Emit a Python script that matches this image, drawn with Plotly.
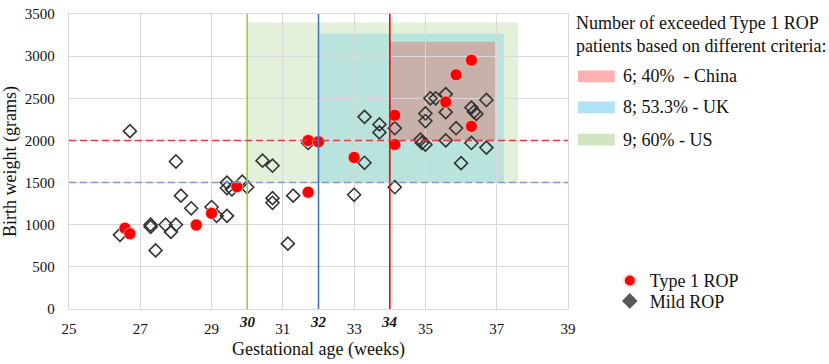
import plotly.graph_objects as go

# ---------------- data ----------------
type1_ga = [26.57, 26.71, 28.57, 29.0, 29.71, 31.71, 31.71, 32.0, 33.0, 34.14, 34.14, 35.57, 35.86, 36.29, 36.29]
type1_bw = [958, 893, 997, 1135, 1451, 1386, 1998, 1983, 1798, 1952, 2298, 2456, 2779, 2952, 2167]

mild_ga = [26.71, 28.0, 30.43, 30.71, 31.71, 33.29, 33.71, 33.71, 34.14, 35.14,
           35.29, 35.57, 35.0, 35.0, 35.57, 36.29, 36.36, 36.43, 36.71, 35.86,
           34.86, 34.9, 35.0, 35.57, 36.29, 36.71, 36.0, 33.29, 33.0, 34.14,
           29.43, 29.43, 29.57, 29.86, 30.0, 28.14, 28.43, 29.0, 29.14, 29.43,
           27.71, 28.0, 27.86, 27.29, 27.29, 27.43, 26.43, 30.71, 30.71, 31.29, 31.14]
mild_bw = [2110, 1750, 1760, 1700, 1970, 2280, 2190, 2095, 2145, 2500,
           2500, 2550, 2320, 2230, 2335, 2390, 2340, 2315, 2480, 2145,
           2010, 1970, 1950, 2000, 1970, 1915, 1730, 1735, 1355, 1445,
           1500, 1435, 1420, 1510, 1445, 1345, 1195, 1210, 1105, 1105,
           1000, 1000, 915, 1000, 975, 695, 880, 1315, 1260, 1345, 775]

# screening criteria (China, UK, US)
crit_names = ["6; 40%  - China", "8; 53.3% - UK", "9; 60% - US"]
crit_ga = [34, 32, 30]
crit_bw = [2000, 1500, 1500]
region_right = [36.95, 37.2, 37.6]
region_top = [3170, 3270, 3400]

x_tickvals = [25, 27, 29, 31, 33, 35, 37, 39]
y_tickvals = [0, 500, 1000, 1500, 2000, 2500, 3000, 3500]

# ---------------- styles ----------------
FONT = "Liberation Serif, Times New Roman, DejaVu Serif, serif"
TXT = "#111111"
line_cols = ["#ff0000", "#4472c4", "#92d050"]
fill_cols = ["rgba(225,95,90,0.38)", "rgba(70,195,230,0.27)", "rgba(169,208,142,0.33)"]
swatch_cols = ["#ffb0b0", "#b0e2f5", "#cfe4c0"]
hdash_cols = ["#e03c3c", "#7b9bd6"]

fig = go.Figure()

fig.add_trace(go.Scatter(x=mild_ga, y=mild_bw, mode="markers", showlegend=False,
                         marker=dict(symbol="diamond-open", size=10, color="#333333",
                                     line=dict(width=1.6, color="#333333"))))
fig.add_trace(go.Scatter(x=type1_ga, y=type1_bw, mode="markers", name="Type 1 ROP",
                         legend="legend",
                         marker=dict(symbol="circle", size=12, color="#ff0000",
                                     line=dict(width=0.6, color="#ffdede"))))
fig.add_trace(go.Scatter(x=[None], y=[None], mode="markers", name="Mild ROP",
                         legend="legend2",
                         marker=dict(symbol="diamond", size=11, color="#595959")))

shapes = []
for i in [2, 1, 0]:
    shapes.append(dict(type="rect", xref="x", yref="y", x0=crit_ga[i], x1=region_right[i],
                       y0=crit_bw[i], y1=region_top[i], fillcolor=fill_cols[i],
                       line=dict(width=0), layer="below"))
for i in range(3):
    shapes.append(dict(type="line", xref="x", yref="y", x0=crit_ga[i], x1=crit_ga[i],
                       y0=0, y1=3500, line=dict(color=line_cols[i], width=1.6)))
for bw, c in zip([2000, 1500], hdash_cols):
    shapes.append(dict(type="line", xref="x", yref="y", x0=25, x1=39, y0=bw, y1=bw,
                       line=dict(color=c, width=1.6, dash="7px,4px")))

L = 67.5
W = 501.5
T = 6
H = 303.0
def px2paper_x(px):
    return (px - L) / W
def px2paper_y(py):
    return 1 - (py - T) / H

annotations = []
for g in crit_ga:
    annotations.append(dict(xref="x", yref="paper", x=g, y=0, yanchor="top", yshift=-3,
                            showarrow=False, text="<b><i>%d</i></b>" % g,
                            font=dict(family=FONT, size=15, color=TXT)))
sw_y = [70, 102, 135]
for i in range(3):
    shapes.append(dict(type="rect", xref="paper", yref="paper",
                       x0=px2paper_x(579), x1=px2paper_x(616),
                       y0=px2paper_y(sw_y[i] + 6), y1=px2paper_y(sw_y[i] - 6),
                       fillcolor=swatch_cols[i], line=dict(width=0)))
    annotations.append(dict(xref="paper", yref="paper", x=px2paper_x(622), y=px2paper_y(sw_y[i]),
                            xanchor="left", yanchor="middle", showarrow=False,
                            text=crit_names[i], font=dict(family=FONT, size=18, color=TXT)))
annotations.append(dict(xref="paper", yref="paper", x=px2paper_x(575), y=px2paper_y(3),
                        xanchor="left", yanchor="top", showarrow=False, align="left",
                        text="Number of exceeded Type 1 ROP<br>patients based on different criteria:",
                        font=dict(family=FONT, size=18, color=TXT)))

leg_common = dict(xanchor="left", yanchor="middle", bgcolor="rgba(0,0,0,0)",
                  font=dict(family=FONT, size=18, color=TXT), itemsizing="constant")

fig.update_layout(
    width=829, height=364,
    margin=dict(l=67.5, r=260.5, t=6, b=55),
    paper_bgcolor="white", plot_bgcolor="white",
    font=dict(family=FONT, size=15, color=TXT),
    shapes=shapes, annotations=annotations,
    legend=dict(x=px2paper_x(611), y=px2paper_y(280), **leg_common),
    legend2=dict(x=px2paper_x(611), y=px2paper_y(301), **leg_common),
    xaxis=dict(range=[25, 39], tickvals=x_tickvals,
               showgrid=True, gridcolor="#d9d9d9", gridwidth=1.3,
               showline=True, mirror=True, linecolor="#d9d9d9", linewidth=1.3, zeroline=False,
               ticks="", ticklabelstandoff=6,
               tickfont=dict(family=FONT, size=15, color=TXT),
               title=dict(text="Gestational age (weeks)", standoff=6,
                          font=dict(family=FONT, size=18, color=TXT))),
    yaxis=dict(range=[0, 3500], tickvals=y_tickvals, ticklabeloverflow="allow",
               showgrid=True, gridcolor="#d9d9d9", gridwidth=1.3,
               showline=True, mirror=True, linecolor="#d9d9d9", linewidth=1.3, zeroline=False,
               ticks="", ticklabelstandoff=10,
               tickfont=dict(family=FONT, size=15, color=TXT),
               title=dict(text="Birth weight (grams)", standoff=6,
                          font=dict(family=FONT, size=18, color=TXT))),
)

fig.write_html("out.html", config={"displayModeBar": False},
               post_script="document.body.style.margin='0px';")
